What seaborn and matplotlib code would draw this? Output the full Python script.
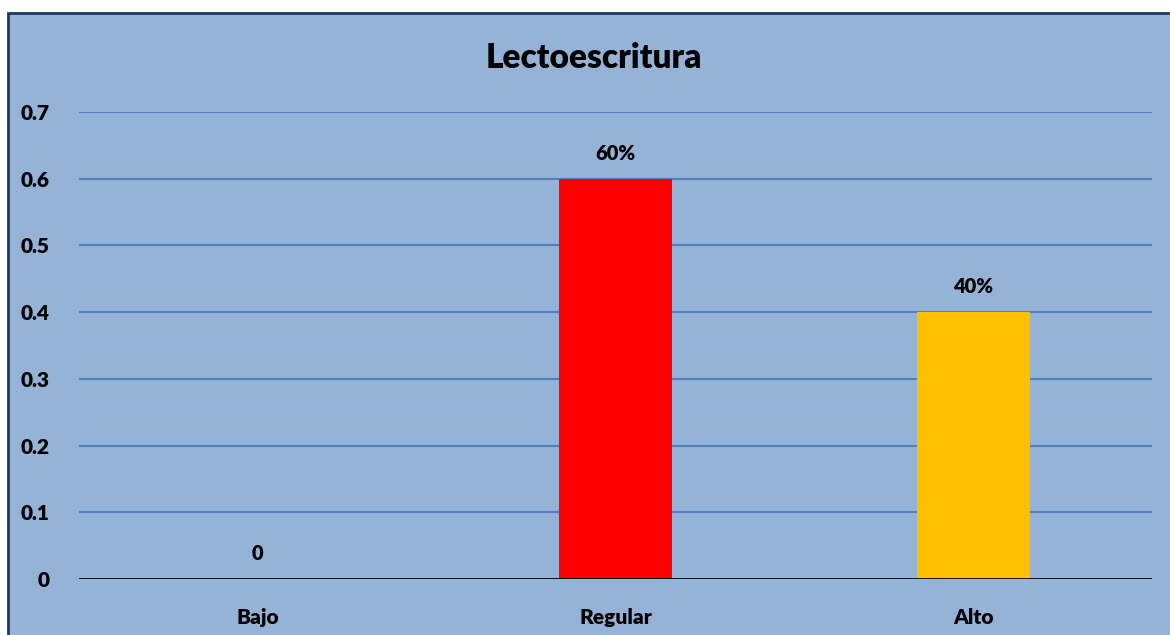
import matplotlib.pyplot as plt
import matplotlib.patches as mpatches
import seaborn as sns
import pandas as pd

# Daten
categorias = ["Bajo", "Regular", "Alto"]
valores = [0.0, 0.6, 0.4]
etiquetas = ["0", "60%", "40%"]
colores = ["#4F81BD", "#FF0000", "#FFC000"]
ticks_y = [0, 0.1, 0.2, 0.3, 0.4, 0.5, 0.6, 0.7]

fondo = "#95B3D7"

sns.set_style("white")
plt.rcParams['font.family'] = ['Lato', 'DejaVu Sans']
plt.rcParams['text.color'] = 'black'
plt.rcParams['xtick.color'] = 'black'
plt.rcParams['ytick.color'] = 'black'

df = pd.DataFrame({"categoria": categorias, "valor": valores})

fig = plt.figure(figsize=(11.7, 6.35), dpi=100)
fig.patch.set_facecolor("white")

# Rahmen des Diagramms
W, H = 1170, 635
rahmen = mpatches.Rectangle((8 / W, -0.1), 1.2, 1.1 - 13 / H, transform=fig.transFigure,
                            facecolor=fondo, edgecolor="#1F3864", linewidth=2, zorder=-1)
fig.patches.append(rahmen)

ax = fig.add_axes([79 / W, 1 - 579 / H, (1152 - 79) / W, (579 - 112) / H])
ax.set_facecolor(fondo)

sns.barplot(data=df, x="categoria", y="valor", hue="categoria", palette=colores,
            width=0.316, legend=False, ax=ax, zorder=3, saturation=1, linewidth=0)

ax.set_xlim(-0.5, 2.5)
ax.set_ylim(0, 0.7)
ax.set_yticks(ticks_y)
ax.set_yticklabels([f"{t:g}" for t in ticks_y], fontsize=15, fontweight="heavy")
ax.tick_params(axis="y", length=0, pad=21)
ax.tick_params(axis="x", length=0, pad=21, labelsize=15)
for lab in ax.get_xticklabels():
    lab.set_fontweight("heavy")

for t in ticks_y[1:]:
    ax.axhline(t, color="#4F81BD", linewidth=1.5, zorder=1)
ax.axhline(0, color="black", linewidth=2, zorder=4)

for s in ax.spines.values():
    s.set_visible(False)

ax.set_xlabel("")
ax.set_ylabel("")

for i, (v, txt) in enumerate(zip(valores, etiquetas)):
    ax.annotate(txt, (i, v), xytext=(0, 16), textcoords="offset pixels",
                ha="center", va="bottom", fontsize=14.5, fontweight="heavy")

fig.text(594 / W, 1 - 58 / H, "Lectoescritura", ha="center", va="center",
         fontsize=24, fontweight="heavy")

fig.savefig("out.png", dpi=100, facecolor=fig.get_facecolor())
